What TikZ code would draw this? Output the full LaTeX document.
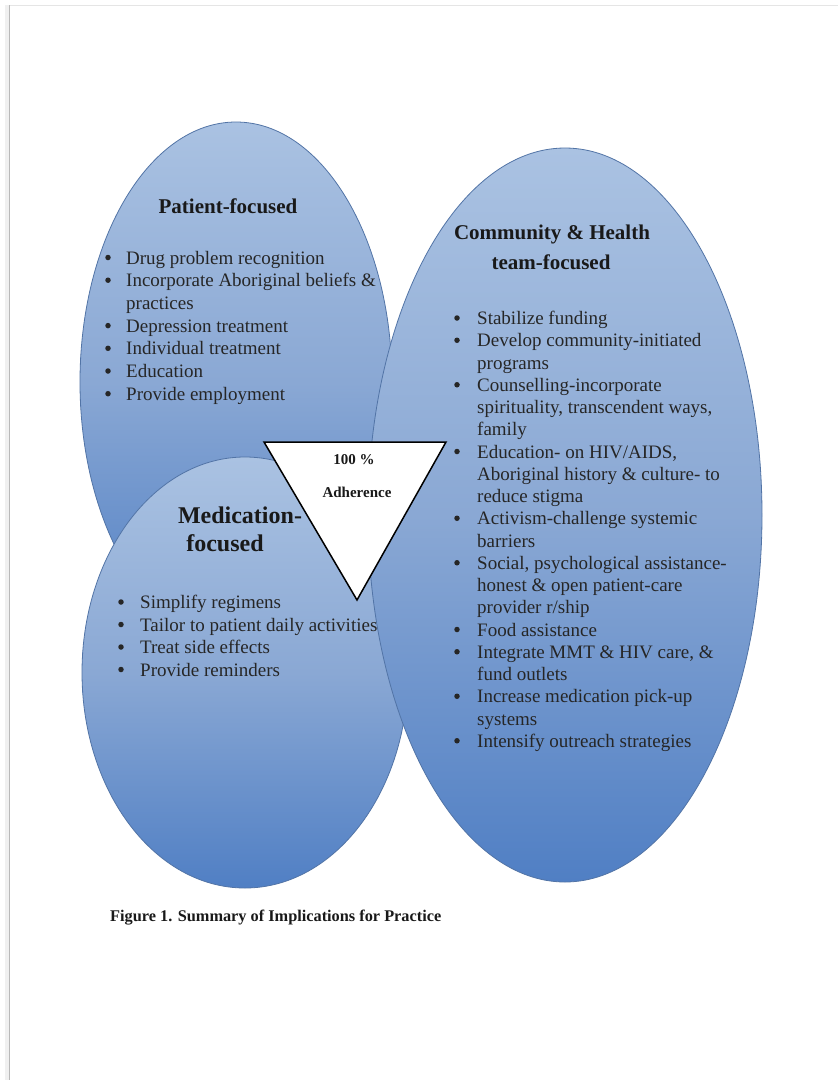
\documentclass[tikz,border=0pt]{standalone}
\usepackage{fontspec}
\setmainfont{Liberation Serif}
\definecolor{elltop}{RGB}{170,194,226}
\definecolor{ellmid}{RGB}{138,168,212}
\definecolor{ellbot}{RGB}{80,127,196}
\definecolor{ellline}{RGB}{82,116,166}
\begin{document}
\begin{tikzpicture}[x=1pt,y=-1pt,
  ell/.style={draw=ellline, line width=0.8pt, top color=elltop, bottom color=ellbot, middle color=ellmid},
  body/.style={font=\fontsize{19}{22}\selectfont, anchor=base west, inner sep=0pt, text=black!85},
  bul/.style={circle, fill=black!85, inner sep=0pt, minimum size=5.5pt},
  head/.style={font=\fontsize{21}{24}\selectfont\bfseries, anchor=base, inner sep=0pt, text=black!90},
  mhead/.style={font=\fontsize{24}{28}\selectfont\bfseries, anchor=base, inner sep=0pt, text=black!90},
  tri/.style={draw=black, line width=1.5pt, fill=white, line join=miter},
  tritext/.style={font=\fontsize{15}{18}\selectfont\bfseries, anchor=base, inner sep=0pt, text=black!90},
  capt/.style={font=\fontsize{16.3}{19}\selectfont\bfseries, anchor=base west, inner sep=0pt, text=black!90}]
\useasboundingbox (0,0) rectangle (838,1080);
\fill[white] (0,0) rectangle (838,1080);
% page frame
\draw[gray!12, line width=4pt] (6.5,5) -- (6.5,1080);
\draw[gray!55, line width=1.2pt] (9.5,5) -- (9.5,1080);
\draw[gray!20, line width=1pt] (9.5,5.5) -- (838,5.5);
% ellipses
\path[ell] (236,382) ellipse [x radius=156pt, y radius=260pt];
\path[ell] (245,672.5) ellipse [x radius=163pt, y radius=215.5pt];
\path[ell] (565,515) ellipse [x radius=197pt, y radius=367pt];
% triangle
\coordinate (t1) at (264,442);
\coordinate (t2) at (446,442);
\coordinate (t3) at (357,600);
\draw[tri] (t1) -- (t2) -- (t3) -- cycle;
\node[tritext] (adh1) at (354,464) {100 \%};
\node[tritext] (adh2) at (357,497) {Adherence};
% Patient-focused
\node[head] (phead) at (228,213) {Patient-focused};
\foreach \t [count=\i] in {Drug problem recognition, Incorporate Aboriginal beliefs \&, practices, Depression treatment, Individual treatment, Education, Provide employment}
  \node[body] (p\i) at (126,{264+(\i-1)*22.7}) {\t};
\foreach \i in {1,2,4,5,6,7}
  \node[bul] (pb\i) at (108,{257.5+(\i-1)*22.7}) {};
% Community
\node[head] (chead1) at (552,239.5) {Community \& Health};
\node[head] (chead2) at (551,269.5) {team-focused};
\foreach \t [count=\i] in {Stabilize funding, Develop community-initiated, programs, Counselling-incorporate, {spirituality, transcendent ways,}, family, {Education- on HIV/AIDS,}, Aboriginal history \& culture- to, reduce stigma, Activism-challenge systemic, barriers, {Social, psychological assistance-}, honest \& open patient-care, provider r/ship, Food assistance, {Integrate MMT \& HIV care, \&}, fund outlets, Increase medication pick-up, systems, Intensify outreach strategies}
  \node[body] (c\i) at (477,{324.5+(\i-1)*22.25}) {\t};
\foreach \i in {1,2,4,7,10,12,15,16,18,20}
  \node[bul] (cb\i) at (457,{318+(\i-1)*22.25}) {};
% Medication
\node[mhead] (mhead1) at (240,523.5) {Medication-};
\node[mhead] (mhead2) at (225,551.5) {focused};
\foreach \t [count=\i] in {Simplify regimens, Tailor to patient daily activities, Treat side effects, Provide reminders}
  \node[body] (m\i) at (140,{608.5+(\i-1)*22.5}) {\t};
\foreach \i in {1,2,3,4}
  \node[bul] (mb\i) at (121,{602+(\i-1)*22.5}) {};
% caption
\node[capt] (cap) at (110,921) {Figure 1. Summary of Implications for Practice};
\end{tikzpicture}
\end{document}
